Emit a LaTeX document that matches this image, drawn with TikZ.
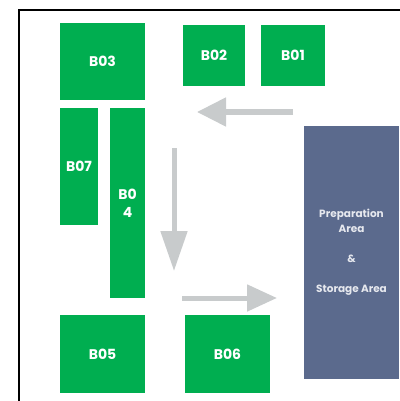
\documentclass[tikz,border=0pt]{standalone}
\usepackage{fontspec}
\setmainfont{Poppins}
\usepackage{tikz}
\usetikzlibrary{arrows.meta,positioning}
\definecolor{baygreen}{RGB}{0,174,80}
\definecolor{prepblue}{RGB}{91,106,141}
\definecolor{flowgray}{RGB}{200,203,204}
\definecolor{preptext}{RGB}{230,232,238}
\tikzset{
    bay/.style={rectangle, fill=baygreen, inner sep=0pt, text=white, font=\fontsize{14}{18}\selectfont\bfseries, align=center},
    prep/.style={rectangle, fill=prepblue, inner sep=0pt, text=preptext, font=\fontsize{10.5}{15}\selectfont\bfseries, align=center},
    flow/.style={draw=flowgray, line width=5pt},
    wall/.style={line width=2pt, black},
}

\begin{document}
\begin{tikzpicture}[x=1pt, y=-1pt]
    \useasboundingbox (0,0) rectangle (399,401);

    % outer wall
    \draw[wall] (19,402) -- (19,10) -- (400,10);

    % bays
    \node[bay, minimum width=85pt, minimum height=77pt] (B03) at (102.5,61.5) {B03};
    \node[bay, minimum width=62pt, minimum height=61pt] (B02) at (214,55.5) {B02};
    \node[bay, minimum width=64pt, minimum height=61pt] (B01) at (293,55.5) {B01};
    \node[bay, minimum width=38pt, minimum height=117pt] (B07) at (79,166.5) {B07};
    \node[bay, minimum width=35pt, minimum height=190pt] (B04) at (127.5,203) {B0\\4};
    \node[bay, minimum width=85pt, minimum height=78pt] (B05) at (102.5,354) {B05};
    \node[bay, minimum width=85pt, minimum height=78pt] (B06) at (227.5,354) {B06};

    % preparation and storage
    \node[prep, minimum width=95pt, minimum height=253pt] (prep) at (351.5,252.5)
        {Preparation\\Area\\[15pt]\&\\[15pt]Storage Area};

    % flow arrows
    \coordinate (leftS) at (293,112);
    \coordinate (leftE) at (197,112);
    \coordinate (downS) at (174,148);
    \coordinate (downE) at (174,271);
    \coordinate (rightS) at (182,298);
    \coordinate (rightE) at (277,298);
    \draw[flow, -{Triangle[length=29pt, width=28pt]}] (leftS) -- (leftE);
    \draw[flow, -{Triangle[length=40pt, width=26pt]}] (downS) -- (downE);
    \draw[flow, -{Triangle[length=30pt, width=26pt]}] (rightS) -- (rightE);
\end{tikzpicture}
\end{document}
